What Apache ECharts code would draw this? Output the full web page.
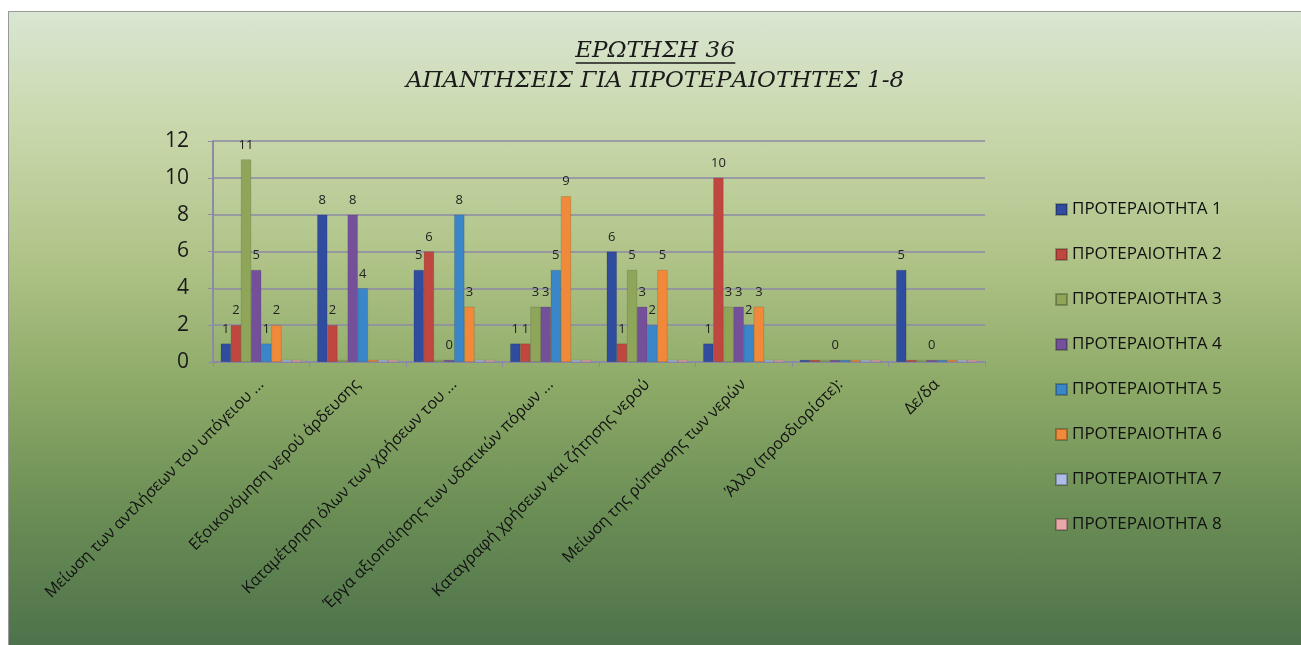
<!DOCTYPE html>
<html>
<head>
<meta charset="utf-8">
<script src="https://cdn.jsdelivr.net/npm/echarts@6/dist/echarts.min.js"></script>
<style>
html,body{margin:0;padding:0;background:#fff;width:1301px;height:645px;overflow:hidden;}
#c{position:absolute;left:8px;top:11px;width:1293px;height:634px;
background:linear-gradient(to bottom,#d9e6d2 0%,#c9d8ac 18%,#aec286 40%,#8fab69 58%,#6c8f56 78%,#4e724b 100%);
border-top:1px solid #999;border-left:1px solid #999;box-sizing:border-box;}
</style>
</head>
<body>
<div id="c"></div>
<script>
const categories = [
  "Μείωση των αντλήσεων του υπόγειου ...",
  "Εξοικονόμηση νερού άρδευσης",
  "Καταμέτρηση όλων των χρήσεων του ...",
  "Έργα αξιοποίησης των υδατικών πόρων ...",
  "Καταγραφή χρήσεων και ζήτησης νερού",
  "Μείωση της ρύπανσης των νερών",
  "Άλλο (προσδιορίστε):",
  "Δε/δα"
];
const seriesNames = ["ΠΡΟΤΕΡΑΙΟΤΗΤΑ 1","ΠΡΟΤΕΡΑΙΟΤΗΤΑ 2","ΠΡΟΤΕΡΑΙΟΤΗΤΑ 3","ΠΡΟΤΕΡΑΙΟΤΗΤΑ 4","ΠΡΟΤΕΡΑΙΟΤΗΤΑ 5","ΠΡΟΤΕΡΑΙΟΤΗΤΑ 6","ΠΡΟΤΕΡΑΙΟΤΗΤΑ 7","ΠΡΟΤΕΡΑΙΟΤΗΤΑ 8"];
const titleLine1 = "ΕΡΩΤΗΣΗ 36";
const titleLine2 = "ΑΠΑΝΤΗΣΕΙΣ ΓΙΑ ΠΡΟΤΕΡΑΙΟΤΗΤΕΣ 1-8";
const p1 = [1, 8, 5, 1, 6, 1, 0, 5];
const p2 = [2, 2, 6, 1, 1, 10, 0, 0];
const p3 = [11, 0, 0, 3, 5, 3, 0, 0];
const p4 = [5, 8, 0, 3, 3, 3, 0, 0];
const p5 = [1, 4, 8, 5, 2, 2, 0, 0];
const p6 = [2, 0, 3, 9, 5, 3, 0, 0];
const p7 = [0, 0, 0, 0, 0, 0, 0, 0];
const p8 = [0, 0, 0, 0, 0, 0, 0, 0];
const yTicks = [0, 2, 4, 6, 8, 10, 12];
const allValues = [p1, p2, p3, p4, p5, p6, p7, p8];
const colors = ['#2f4c9f','#c0473f','#8fa65a','#74509a','#3b86c9','#f08a3a','#aebde6','#e8a7a8'];
const showZero = [false,false,false,true,false,false,false,false];
const serif = '"DejaVu Serif", "Liberation Serif", serif';
const titleSize = 23;

const el = document.getElementById('c');
const W = 1293;
const mctx = document.createElement('canvas').getContext('2d');
mctx.font = 'italic normal ' + titleSize + 'px ' + serif;
const w1 = mctx.measureText(titleLine1).width;

const chart = echarts.init(el);
const ts = {fontFamily: serif, fontStyle:'italic', fontWeight:'normal', fontSize:titleSize, color:'#1a1a1a', lineHeight:30};
chart.setOption({
  animation: false,
  color: colors,
  title: {
    left: 'center', top: 24, padding: 0,
    text: '{a|' + titleLine1 + '}\n{b|' + titleLine2 + '}',
    textStyle: Object.assign({}, ts, {rich: {a: ts, b: ts}})
  },
  graphic: [{
    type:'line', shape:{x1:W/2 - w1/2, y1:51, x2:W/2 + w1/2, y2:51}, style:{stroke:'#1a1a1a', lineWidth:1.5}
  }],
  legend: {
    orient: 'vertical', left: 1041, top: 184, itemGap: 28,
    itemWidth: 11, itemHeight: 11, icon: 'rect',
    textStyle: {fontFamily:'Open Sans', fontSize:17, color:'#111'},
    data: seriesNames
  },
  grid: {left: 204, right: 316, top: 129, bottom: 283},
  xAxis: {
    type: 'category', data: categories,
    axisLine: {lineStyle:{color:'#8d8aa6', width:2}},
    axisTick: {show:true, lineStyle:{color:'#8d8aa6'}},
    axisLabel: {rotate: 45, interval: 0, fontFamily:'Open Sans', fontSize:16, color:'#111', margin:20}
  },
  yAxis: {
    type: 'value', min: 0, max: 12, interval: 2,
    axisLine: {show:true, lineStyle:{color:'#8d8aa6', width:2}},
    axisTick: {show:true, lineStyle:{color:'#8d8aa6'}},
    splitLine: {lineStyle:{color:'#8d8aa6', width:1.5}},
    axisLabel: {fontFamily:'Open Sans', fontSize:21, color:'#1a1a1a', margin:24,
      formatter: v => yTicks.includes(v) ? String(v) : ''}
  },
  series: allValues.map((vals, i) => ({
    name: seriesNames[i], type: 'bar', data: vals,
    barGap: '0%', barCategoryGap: '16%', barMinHeight: 2,
    itemStyle: {color: colors[i], borderColor: 'rgba(0,0,0,0.25)', borderWidth: 0.5},
    label: {
      show: true, position: 'top', distance: 8,
      fontFamily:'Open Sans', fontSize:13, color:'#222',
      formatter: p => (p.value === 0 && !showZero[i]) ? '' : String(p.value)
    }
  }))
});
</script>
</body>
</html>
